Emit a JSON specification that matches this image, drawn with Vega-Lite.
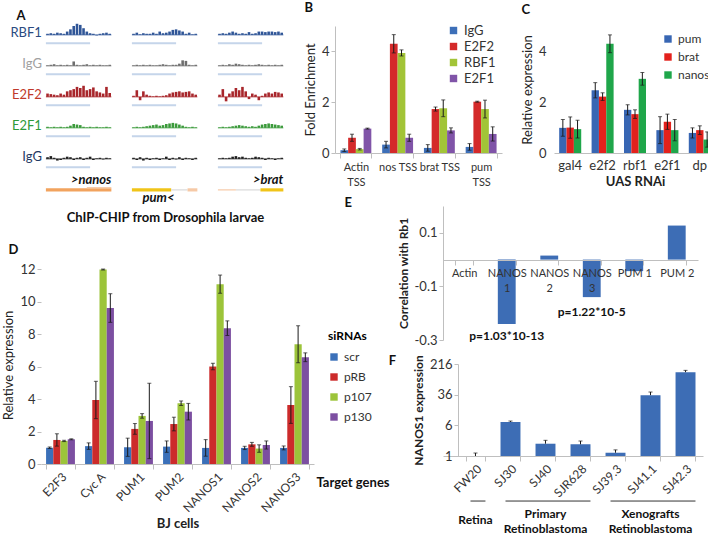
{
"$schema":"https://vega.github.io/schema/vega-lite/v6.json",
"background":"white",
"padding":{"left":2,"top":2,"right":0,"bottom":0},
"config":{
  "font":"Lato",
  "view":{"stroke":null},
  "axis":{"grid":false,"labelColor":"#333","titleColor":"#222","domainColor":"#bfbfbf","tickColor":"#bfbfbf","labelFontSize":13,"titleFontSize":13,"titleFontWeight":"normal"},
  "legend":{"labelFontSize":13,"labelColor":"#333","symbolType":"square","symbolSize":55,"symbolStrokeWidth":0},
  "title":{"fontSize":13,"fontWeight":"bold","color":"#111"}
},
"resolve":{"scale":{"color":"independent","fill":"independent","stroke":"independent","strokeWidth":"independent","xOffset":"independent"},"legend":{"color":"independent"}},
"vconcat":[
 {"resolve":{"scale":{"color":"independent","fill":"independent","stroke":"independent","strokeWidth":"independent","xOffset":"independent"},"legend":{"color":"independent"}},
  "hconcat":[
  {
   "title":{"text":"A","anchor":"start","frame":"bounds","offset":-1,"dx":6},
   "data":{"values":[
    {"t":"R","s":1,"i":0,"v":0.1},{"t":"R","s":1,"i":1,"v":0.15},{"t":"R","s":1,"i":2,"v":0.1},{"t":"R","s":1,"i":3,"v":0.2},{"t":"R","s":1,"i":4,"v":0.15},{"t":"R","s":1,"i":5,"v":0.1},{"t":"R","s":1,"i":6,"v":0.3},{"t":"R","s":1,"i":7,"v":0.5},{"t":"R","s":1,"i":8,"v":0.8},{"t":"R","s":1,"i":9,"v":1.0},{"t":"R","s":1,"i":10,"v":0.9},{"t":"R","s":1,"i":11,"v":0.6},{"t":"R","s":1,"i":12,"v":0.3},{"t":"R","s":1,"i":13,"v":0.15},{"t":"R","s":1,"i":14,"v":0.1},{"t":"R","s":1,"i":15,"v":-0.05},{"t":"R","s":1,"i":16,"v":0.1},{"t":"R","s":1,"i":17,"v":0.15},{"t":"R","s":1,"i":18,"v":0.2},{"t":"R","s":1,"i":19,"v":0.1},
    {"t":"R","s":2,"i":0,"v":0.1},{"t":"R","s":2,"i":1,"v":0.2},{"t":"R","s":2,"i":2,"v":0.05},{"t":"R","s":2,"i":3,"v":0.15},{"t":"R","s":2,"i":4,"v":0.1},{"t":"R","s":2,"i":5,"v":0.1},{"t":"R","s":2,"i":6,"v":0.2},{"t":"R","s":2,"i":7,"v":0.1},{"t":"R","s":2,"i":8,"v":0.3},{"t":"R","s":2,"i":9,"v":0.15},{"t":"R","s":2,"i":10,"v":0.2},{"t":"R","s":2,"i":11,"v":0.3},{"t":"R","s":2,"i":12,"v":0.45},{"t":"R","s":2,"i":13,"v":0.5},{"t":"R","s":2,"i":14,"v":0.4},{"t":"R","s":2,"i":15,"v":0.3},{"t":"R","s":2,"i":16,"v":0.1},{"t":"R","s":2,"i":17,"v":0.2},{"t":"R","s":2,"i":18,"v":0.05},{"t":"R","s":2,"i":19,"v":0.1},
    {"t":"R","s":3,"i":0,"v":0.1},{"t":"R","s":3,"i":1,"v":0.15},{"t":"R","s":3,"i":2,"v":0.1},{"t":"R","s":3,"i":3,"v":0.2},{"t":"R","s":3,"i":4,"v":0.3},{"t":"R","s":3,"i":5,"v":0.2},{"t":"R","s":3,"i":6,"v":0.1},{"t":"R","s":3,"i":7,"v":0.15},{"t":"R","s":3,"i":8,"v":0.1},{"t":"R","s":3,"i":9,"v":0.25},{"t":"R","s":3,"i":10,"v":0.1},{"t":"R","s":3,"i":11,"v":0.15},{"t":"R","s":3,"i":12,"v":0.3},{"t":"R","s":3,"i":13,"v":0.3},{"t":"R","s":3,"i":14,"v":0.25},{"t":"R","s":3,"i":15,"v":0.3},{"t":"R","s":3,"i":16,"v":0.3},{"t":"R","s":3,"i":17,"v":0.25},{"t":"R","s":3,"i":18,"v":0.3},{"t":"R","s":3,"i":19,"v":0.2},
    {"t":"I1","s":1,"i":0,"v":0.05},{"t":"I1","s":1,"i":1,"v":0.1},{"t":"I1","s":1,"i":2,"v":0.15},{"t":"I1","s":1,"i":3,"v":0.05},{"t":"I1","s":1,"i":4,"v":0.1},{"t":"I1","s":1,"i":5,"v":0.05},{"t":"I1","s":1,"i":6,"v":0.1},{"t":"I1","s":1,"i":7,"v":0.05},{"t":"I1","s":1,"i":8,"v":0.4},{"t":"I1","s":1,"i":9,"v":0.1},{"t":"I1","s":1,"i":10,"v":0.05},{"t":"I1","s":1,"i":11,"v":0.1},{"t":"I1","s":1,"i":12,"v":0.15},{"t":"I1","s":1,"i":13,"v":0.05},{"t":"I1","s":1,"i":14,"v":0.1},{"t":"I1","s":1,"i":15,"v":0.05},{"t":"I1","s":1,"i":16,"v":0.1},{"t":"I1","s":1,"i":17,"v":0.05},{"t":"I1","s":1,"i":18,"v":0.05},{"t":"I1","s":1,"i":19,"v":0.1},
    {"t":"I1","s":2,"i":0,"v":0.05},{"t":"I1","s":2,"i":1,"v":0.1},{"t":"I1","s":2,"i":2,"v":0.05},{"t":"I1","s":2,"i":3,"v":0.1},{"t":"I1","s":2,"i":4,"v":0.05},{"t":"I1","s":2,"i":5,"v":0.1},{"t":"I1","s":2,"i":6,"v":0.05},{"t":"I1","s":2,"i":7,"v":0.05},{"t":"I1","s":2,"i":8,"v":0.1},{"t":"I1","s":2,"i":9,"v":0.15},{"t":"I1","s":2,"i":10,"v":0.1},{"t":"I1","s":2,"i":11,"v":0.05},{"t":"I1","s":2,"i":12,"v":0.1},{"t":"I1","s":2,"i":13,"v":0.1},{"t":"I1","s":2,"i":14,"v":0.2},{"t":"I1","s":2,"i":15,"v":0.5},{"t":"I1","s":2,"i":16,"v":0.45},{"t":"I1","s":2,"i":17,"v":0.1},{"t":"I1","s":2,"i":18,"v":0.05},{"t":"I1","s":2,"i":19,"v":0.1},
    {"t":"I1","s":3,"i":0,"v":0.05},{"t":"I1","s":3,"i":1,"v":0.1},{"t":"I1","s":3,"i":2,"v":0.05},{"t":"I1","s":3,"i":3,"v":0.15},{"t":"I1","s":3,"i":4,"v":0.1},{"t":"I1","s":3,"i":5,"v":0.2},{"t":"I1","s":3,"i":6,"v":0.15},{"t":"I1","s":3,"i":7,"v":0.1},{"t":"I1","s":3,"i":8,"v":0.05},{"t":"I1","s":3,"i":9,"v":0.1},{"t":"I1","s":3,"i":10,"v":0.05},{"t":"I1","s":3,"i":11,"v":0.1},{"t":"I1","s":3,"i":12,"v":0.15},{"t":"I1","s":3,"i":13,"v":0.1},{"t":"I1","s":3,"i":14,"v":0.05},{"t":"I1","s":3,"i":15,"v":0.1},{"t":"I1","s":3,"i":16,"v":0.05},{"t":"I1","s":3,"i":17,"v":0.1},{"t":"I1","s":3,"i":18,"v":0.05},{"t":"I1","s":3,"i":19,"v":0.1},
    {"t":"E2","s":1,"i":0,"v":0.3},{"t":"E2","s":1,"i":1,"v":0.25},{"t":"E2","s":1,"i":2,"v":0.2},{"t":"E2","s":1,"i":3,"v":0.15},{"t":"E2","s":1,"i":4,"v":0.3},{"t":"E2","s":1,"i":5,"v":0.2},{"t":"E2","s":1,"i":6,"v":0.5},{"t":"E2","s":1,"i":7,"v":0.6},{"t":"E2","s":1,"i":8,"v":0.7},{"t":"E2","s":1,"i":9,"v":0.9},{"t":"E2","s":1,"i":10,"v":0.8},{"t":"E2","s":1,"i":11,"v":1.0},{"t":"E2","s":1,"i":12,"v":0.6},{"t":"E2","s":1,"i":13,"v":0.7},{"t":"E2","s":1,"i":14,"v":0.85},{"t":"E2","s":1,"i":15,"v":0.5},{"t":"E2","s":1,"i":16,"v":0.4},{"t":"E2","s":1,"i":17,"v":0.3},{"t":"E2","s":1,"i":18,"v":0.9},{"t":"E2","s":1,"i":19,"v":0.35},
    {"t":"E2","s":2,"i":0,"v":0.1},{"t":"E2","s":2,"i":1,"v":0.6},{"t":"E2","s":2,"i":2,"v":-0.3},{"t":"E2","s":2,"i":3,"v":0.5},{"t":"E2","s":2,"i":4,"v":0.2},{"t":"E2","s":2,"i":5,"v":0.1},{"t":"E2","s":2,"i":6,"v":0.05},{"t":"E2","s":2,"i":7,"v":0.1},{"t":"E2","s":2,"i":8,"v":0.05},{"t":"E2","s":2,"i":9,"v":0.1},{"t":"E2","s":2,"i":10,"v":0.15},{"t":"E2","s":2,"i":11,"v":0.3},{"t":"E2","s":2,"i":12,"v":0.4},{"t":"E2","s":2,"i":13,"v":0.45},{"t":"E2","s":2,"i":14,"v":0.5},{"t":"E2","s":2,"i":15,"v":0.4},{"t":"E2","s":2,"i":16,"v":0.45},{"t":"E2","s":2,"i":17,"v":0.5},{"t":"E2","s":2,"i":18,"v":0.3},{"t":"E2","s":2,"i":19,"v":0.2},
    {"t":"E2","s":3,"i":0,"v":0.2},{"t":"E2","s":3,"i":1,"v":0.7},{"t":"E2","s":3,"i":2,"v":-0.4},{"t":"E2","s":3,"i":3,"v":0.3},{"t":"E2","s":3,"i":4,"v":0.5},{"t":"E2","s":3,"i":5,"v":0.8},{"t":"E2","s":3,"i":6,"v":0.6},{"t":"E2","s":3,"i":7,"v":0.9},{"t":"E2","s":3,"i":8,"v":0.5},{"t":"E2","s":3,"i":9,"v":-0.2},{"t":"E2","s":3,"i":10,"v":0.3},{"t":"E2","s":3,"i":11,"v":0.2},{"t":"E2","s":3,"i":12,"v":-0.3},{"t":"E2","s":3,"i":13,"v":0.1},{"t":"E2","s":3,"i":14,"v":0.3},{"t":"E2","s":3,"i":15,"v":0.4},{"t":"E2","s":3,"i":16,"v":0.3},{"t":"E2","s":3,"i":17,"v":0.45},{"t":"E2","s":3,"i":18,"v":0.4},{"t":"E2","s":3,"i":19,"v":0.3},
    {"t":"E1","s":1,"i":0,"v":0.1},{"t":"E1","s":1,"i":1,"v":0.05},{"t":"E1","s":1,"i":2,"v":0.1},{"t":"E1","s":1,"i":3,"v":0.05},{"t":"E1","s":1,"i":4,"v":0.1},{"t":"E1","s":1,"i":5,"v":0.05},{"t":"E1","s":1,"i":6,"v":0.1},{"t":"E1","s":1,"i":7,"v":0.2},{"t":"E1","s":1,"i":8,"v":0.35},{"t":"E1","s":1,"i":9,"v":0.3},{"t":"E1","s":1,"i":10,"v":0.25},{"t":"E1","s":1,"i":11,"v":0.1},{"t":"E1","s":1,"i":12,"v":0.05},{"t":"E1","s":1,"i":13,"v":0.1},{"t":"E1","s":1,"i":14,"v":0.05},{"t":"E1","s":1,"i":15,"v":0.1},{"t":"E1","s":1,"i":16,"v":0.05},{"t":"E1","s":1,"i":17,"v":0.05},{"t":"E1","s":1,"i":18,"v":0.1},{"t":"E1","s":1,"i":19,"v":0.05},
    {"t":"E1","s":2,"i":0,"v":0.05},{"t":"E1","s":2,"i":1,"v":0.1},{"t":"E1","s":2,"i":2,"v":0.05},{"t":"E1","s":2,"i":3,"v":0.1},{"t":"E1","s":2,"i":4,"v":0.15},{"t":"E1","s":2,"i":5,"v":0.2},{"t":"E1","s":2,"i":6,"v":0.25},{"t":"E1","s":2,"i":7,"v":0.3},{"t":"E1","s":2,"i":8,"v":0.2},{"t":"E1","s":2,"i":9,"v":0.25},{"t":"E1","s":2,"i":10,"v":0.35},{"t":"E1","s":2,"i":11,"v":0.4},{"t":"E1","s":2,"i":12,"v":0.45},{"t":"E1","s":2,"i":13,"v":0.4},{"t":"E1","s":2,"i":14,"v":0.3},{"t":"E1","s":2,"i":15,"v":0.2},{"t":"E1","s":2,"i":16,"v":0.1},{"t":"E1","s":2,"i":17,"v":0.05},{"t":"E1","s":2,"i":18,"v":0.1},{"t":"E1","s":2,"i":19,"v":0.05},
    {"t":"E1","s":3,"i":0,"v":0.05},{"t":"E1","s":3,"i":1,"v":0.1},{"t":"E1","s":3,"i":2,"v":0.05},{"t":"E1","s":3,"i":3,"v":0.1},{"t":"E1","s":3,"i":4,"v":0.15},{"t":"E1","s":3,"i":5,"v":0.2},{"t":"E1","s":3,"i":6,"v":0.25},{"t":"E1","s":3,"i":7,"v":0.2},{"t":"E1","s":3,"i":8,"v":0.15},{"t":"E1","s":3,"i":9,"v":0.1},{"t":"E1","s":3,"i":10,"v":0.15},{"t":"E1","s":3,"i":11,"v":0.1},{"t":"E1","s":3,"i":12,"v":0.2},{"t":"E1","s":3,"i":13,"v":0.3},{"t":"E1","s":3,"i":14,"v":0.35},{"t":"E1","s":3,"i":15,"v":0.4},{"t":"E1","s":3,"i":16,"v":0.35},{"t":"E1","s":3,"i":17,"v":0.3},{"t":"E1","s":3,"i":18,"v":0.25},{"t":"E1","s":3,"i":19,"v":0.2},
    {"t":"I2","s":1,"i":0,"v":0.15},{"t":"I2","s":1,"i":1,"v":0.25},{"t":"I2","s":1,"i":2,"v":0.1},{"t":"I2","s":1,"i":3,"v":-0.15},{"t":"I2","s":1,"i":4,"v":-0.1},{"t":"I2","s":1,"i":5,"v":0.1},{"t":"I2","s":1,"i":6,"v":0.2},{"t":"I2","s":1,"i":7,"v":0.15},{"t":"I2","s":1,"i":8,"v":-0.1},{"t":"I2","s":1,"i":9,"v":0.1},{"t":"I2","s":1,"i":10,"v":0.15},{"t":"I2","s":1,"i":11,"v":-0.1},{"t":"I2","s":1,"i":12,"v":0.1},{"t":"I2","s":1,"i":13,"v":0.2},{"t":"I2","s":1,"i":14,"v":-0.1},{"t":"I2","s":1,"i":15,"v":0.05},{"t":"I2","s":1,"i":16,"v":0.1},{"t":"I2","s":1,"i":17,"v":-0.05},{"t":"I2","s":1,"i":18,"v":0.1},{"t":"I2","s":1,"i":19,"v":0.05},
    {"t":"I2","s":2,"i":0,"v":0.1},{"t":"I2","s":2,"i":1,"v":-0.1},{"t":"I2","s":2,"i":2,"v":0.15},{"t":"I2","s":2,"i":3,"v":-0.15},{"t":"I2","s":2,"i":4,"v":0.1},{"t":"I2","s":2,"i":5,"v":-0.1},{"t":"I2","s":2,"i":6,"v":0.05},{"t":"I2","s":2,"i":7,"v":0.1},{"t":"I2","s":2,"i":8,"v":-0.1},{"t":"I2","s":2,"i":9,"v":0.05},{"t":"I2","s":2,"i":10,"v":0.2},{"t":"I2","s":2,"i":11,"v":-0.1},{"t":"I2","s":2,"i":12,"v":0.1},{"t":"I2","s":2,"i":13,"v":-0.05},{"t":"I2","s":2,"i":14,"v":0.15},{"t":"I2","s":2,"i":15,"v":-0.1},{"t":"I2","s":2,"i":16,"v":0.1},{"t":"I2","s":2,"i":17,"v":0.05},{"t":"I2","s":2,"i":18,"v":-0.1},{"t":"I2","s":2,"i":19,"v":0.1},
    {"t":"I2","s":3,"i":0,"v":0.05},{"t":"I2","s":3,"i":1,"v":0.1},{"t":"I2","s":3,"i":2,"v":0.05},{"t":"I2","s":3,"i":3,"v":0.1},{"t":"I2","s":3,"i":4,"v":0.2},{"t":"I2","s":3,"i":5,"v":0.25},{"t":"I2","s":3,"i":6,"v":0.15},{"t":"I2","s":3,"i":7,"v":0.2},{"t":"I2","s":3,"i":8,"v":0.1},{"t":"I2","s":3,"i":9,"v":0.05},{"t":"I2","s":3,"i":10,"v":0.1},{"t":"I2","s":3,"i":11,"v":0.2},{"t":"I2","s":3,"i":12,"v":0.15},{"t":"I2","s":3,"i":13,"v":0.1},{"t":"I2","s":3,"i":14,"v":-0.1},{"t":"I2","s":3,"i":15,"v":0.1},{"t":"I2","s":3,"i":16,"v":0.05},{"t":"I2","s":3,"i":17,"v":-0.1},{"t":"I2","s":3,"i":18,"v":0.05},{"t":"I2","s":3,"i":19,"v":0.1},
    {"t":"G","s":1,"g0":-0.5,"g1":19.5,"gf":"nanos","gk":"exon","ln":0},
    {"t":"G","s":1,"g0":12,"g1":19.5,"gf":"other","gk":"intron","ln":0.2},
    {"t":"G","s":2,"g0":-0.5,"g1":11.5,"gf":"pum","gk":"exon","ln":0},
    {"t":"G","s":2,"g0":11.5,"g1":16.5,"gf":"intergenic","gk":"intron","ln":0},
    {"t":"G","s":2,"g0":16.5,"g1":19.5,"gf":"other","gk":"exon","ln":0},
    {"t":"G","s":3,"g0":-0.5,"g1":5,"gf":"other","gk":"intron","ln":0},
    {"t":"G","s":3,"g0":5,"g1":12.5,"gf":"intergenic","gk":"intron","ln":0},
    {"t":"G","s":3,"g0":12.5,"g1":19.5,"gf":"brat","gk":"exon","ln":0},
    {"t":"G","s":1,"gx":19.5,"gy":0.88,"gt":">nanos"},
    {"t":"G","s":2,"gx":12.5,"gy":-0.75,"gt":"pum<"},
    {"t":"G","s":3,"gx":19.5,"gy":0.88,"gt":">brat"},
    {"t":"R","s":1,"lab":"RBF1"},{"t":"I1","s":1,"lab":"IgG"},{"t":"E2","s":1,"lab":"E2F2"},{"t":"E1","s":1,"lab":"E2F1"},{"t":"I2","s":1,"lab":"IgG"}
   ]},
   "facet":{
     "row":{"field":"t","type":"nominal","sort":["R","I1","E2","E1","I2","G"],"header":null},
     "column":{"field":"s","type":"ordinal","header":null}
   },
   "bounds":"flush",
   "spacing":{"row":11,"column":14},
   "spec":{
     "width":72,"height":20,
     "layer":[
       {"transform":[{"filter":"datum.i === 0"}],"mark":{"type":"rule","strokeWidth":0.8},
        "encoding":{"x":{"datum":-0.5,"axis":null},"x2":{"datum":19.5},"y":{"datum":0,"axis":null},
          "color":{"field":"t","type":"nominal","scale":{"domain":["R","I1","E2","E1","I2"],"range":["#2f5597","#6e6e6e","#a8262b","#3b9a3b","#1e1e1e"]},"legend":null}}},
       {"transform":[{"filter":"datum.i === 0"}],"mark":{"type":"rule","strokeWidth":2,"color":"#c5d5ea"},
        "encoding":{"x":{"datum":-0.5,"axis":null},"x2":{"datum":13},"y":{"datum":-0.75,"axis":null}}},
       {"transform":[{"filter":"isValid(datum.v)"}],"mark":{"type":"rule","strokeWidth":2.6},
        "encoding":{"x":{"field":"i","type":"quantitative","scale":{"domain":[-0.5,19.5]},"axis":null},
          "y":{"field":"v","type":"quantitative","scale":{"domain":[-0.9,0.7]},"axis":null},
          "y2":{"datum":0},
          "color":{"field":"t","type":"nominal","legend":null}}},
       {"transform":[{"filter":"isValid(datum.g0)"}],"mark":{"type":"rule"},
        "encoding":{"x":{"field":"g0","type":"quantitative","axis":null},"x2":{"field":"g1"},
          "y":{"field":"ln","type":"quantitative","axis":null},
          "stroke":{"field":"gf","type":"nominal","scale":{"domain":["nanos","pum","brat","other","intergenic"],"range":["#f2a35e","#f0c419","#f0c419","#f6c9a6","#d9d9d9"]},"legend":null},
          "strokeWidth":{"field":"gk","type":"nominal","scale":{"domain":["exon","intron"],"range":[3.2,1.2]},"legend":null}}},
       {"transform":[{"filter":"isValid(datum.gt)"}],"mark":{"type":"text","align":"right","fontSize":13,"fontWeight":"bold","fontStyle":"italic","color":"#111"},
        "encoding":{"x":{"field":"gx","type":"quantitative","axis":null},"y":{"field":"gy","type":"quantitative","axis":null},"text":{"field":"gt"}}},
       {"transform":[{"filter":"isValid(datum.lab)"}],"mark":{"type":"text","align":"right","dx":-4,"fontSize":13},
        "encoding":{"x":{"datum":-0.5,"axis":null},"y":{"datum":0.15,"axis":null},"text":{"field":"lab"},
          "fill":{"field":"t","type":"nominal","scale":{"domain":["R","I1","E2","E1","I2"],"range":["#2b4a80","#a0a0a0","#c0392b","#2e9a3a","#1f3864"]},"legend":null}}}
     ]
   }
  },
  {
   "title":{"text":"B","anchor":"start","frame":"bounds","offset":9},
   "width":167,"height":127,
   "data":{"values":[
    {"c":"Actin TSS","g":"IgG","v":0.11,"lo":0.06,"hi":0.16},
    {"c":"Actin TSS","g":"E2F2","v":0.6,"lo":0.46,"hi":0.74},
    {"c":"Actin TSS","g":"RBF1","v":0.15,"lo":0.12,"hi":0.18},
    {"c":"Actin TSS","g":"E2F1","v":0.96,"lo":0.94,"hi":0.98},
    {"c":"nos TSS","g":"IgG","v":0.33,"lo":0.2,"hi":0.46},
    {"c":"nos TSS","g":"E2F2","v":4.3,"lo":3.94,"hi":4.66},
    {"c":"nos TSS","g":"RBF1","v":3.94,"lo":3.82,"hi":4.06},
    {"c":"nos TSS","g":"E2F1","v":0.6,"lo":0.46,"hi":0.74},
    {"c":"brat TSS","g":"IgG","v":0.2,"lo":0.07,"hi":0.33},
    {"c":"brat TSS","g":"E2F2","v":1.73,"lo":1.65,"hi":1.81},
    {"c":"brat TSS","g":"RBF1","v":1.76,"lo":1.43,"hi":2.09},
    {"c":"brat TSS","g":"E2F1","v":0.89,"lo":0.79,"hi":0.99},
    {"c":"pum TSS","g":"IgG","v":0.24,"lo":0.11,"hi":0.37},
    {"c":"pum TSS","g":"E2F2","v":2.02,"lo":2.0,"hi":2.04},
    {"c":"pum TSS","g":"RBF1","v":1.73,"lo":1.38,"hi":2.08},
    {"c":"pum TSS","g":"E2F1","v":0.75,"lo":0.47,"hi":1.03}
   ]},
   "encoding":{
     "x":{"field":"c","type":"nominal","scale":{"domain":["Actin TSS","nos TSS","brat TSS","pum TSS"],"paddingInner":0.26,"paddingOuter":0.13},
       "axis":{"title":null,"labelAngle":0,"labelFontSize":11,"tickBand":"extent","tickSize":5,"labelPadding":3,"labelLineHeight":15,"labelExpr":"datum.label === 'Actin TSS' || datum.label === 'pum TSS' ? split(datum.label, ' ') : datum.label"}},
     "xOffset":{"field":"g","type":"nominal","scale":{"domain":["IgG","E2F2","RBF1","E2F1"]}}
   },
   "layer":[
     {"mark":{"type":"bar"},"encoding":{
       "y":{"field":"v","type":"quantitative","scale":{"domain":[0,5]},"axis":{"title":"Fold Enrichment","values":[0,1,2,3,4,5],"tickSize":4}},
       "color":{"field":"g","type":"nominal","scale":{"domain":["IgG","E2F2","RBF1","E2F1"],"range":["#3d6fb8","#d42a2a","#a2c437","#8054a8"]},
         "legend":{"title":null,"orient":"none","legendX":112,"legendY":-2,"rowPadding":2}}}},
     {"mark":{"type":"rule","color":"#1a1a1a"},"encoding":{"y":{"field":"lo","type":"quantitative"},"y2":{"field":"hi"}}},
     {"mark":{"type":"tick","orient":"horizontal","size":4,"thickness":1,"color":"#1a1a1a"},"encoding":{"y":{"field":"hi","type":"quantitative"}}},
     {"mark":{"type":"tick","orient":"horizontal","size":4,"thickness":1,"color":"#1a1a1a"},"encoding":{"y":{"field":"lo","type":"quantitative"}}}
   ]
  },
  {
   "title":{"text":"C","anchor":"start","frame":"bounds","offset":9},
   "width":162,"height":127,
   "data":{"values":[
    {"c":"gal4","g":"pum","v":0.99,"lo":0.66,"hi":1.32},
    {"c":"gal4","g":"brat","v":1.0,"lo":0.58,"hi":1.42},
    {"c":"gal4","g":"nanos","v":0.94,"lo":0.59,"hi":1.29},
    {"c":"e2f2","g":"pum","v":2.47,"lo":2.17,"hi":2.77},
    {"c":"e2f2","g":"brat","v":2.22,"lo":2.07,"hi":2.37},
    {"c":"e2f2","g":"nanos","v":4.3,"lo":3.95,"hi":4.65},
    {"c":"rbf1","g":"pum","v":1.7,"lo":1.5,"hi":1.9},
    {"c":"rbf1","g":"brat","v":1.53,"lo":1.36,"hi":1.7},
    {"c":"rbf1","g":"nanos","v":2.92,"lo":2.67,"hi":3.17},
    {"c":"e2f1","g":"pum","v":0.9,"lo":0.37,"hi":1.43},
    {"c":"e2f1","g":"brat","v":1.23,"lo":0.93,"hi":1.53},
    {"c":"e2f1","g":"nanos","v":0.9,"lo":0.48,"hi":1.32},
    {"c":"dp","g":"pum","v":0.79,"lo":0.59,"hi":0.99},
    {"c":"dp","g":"brat","v":0.9,"lo":0.73,"hi":1.07},
    {"c":"dp","g":"nanos","v":0.53,"lo":0.23,"hi":0.83}
   ]},
   "encoding":{
     "x":{"field":"c","type":"nominal","scale":{"domain":["gal4","e2f2","rbf1","e2f1","dp"],"paddingInner":0.32,"paddingOuter":0.16},
       "axis":{"title":"UAS RNAi","titleFontWeight":"bold","titlePadding":3,"labelAngle":0,"ticks":false,"labelPadding":6}},
     "xOffset":{"field":"g","type":"nominal","scale":{"domain":["pum","brat","nanos"]}}
   },
   "layer":[
     {"mark":{"type":"bar"},"encoding":{
       "y":{"field":"v","type":"quantitative","scale":{"domain":[0,5]},"axis":{"title":"Relative expression","values":[0,1,2,3,4,5],"ticks":false,"domain":false,"labelPadding":8}},
       "color":{"field":"g","type":"nominal","scale":{"domain":["pum","brat","nanos"],"range":["#3866b3","#e3211c","#1fa64a"]},
         "legend":{"title":null,"orient":"none","legendX":108,"legendY":7,"rowPadding":6,"labelFontSize":12}}}},
     {"mark":{"type":"rule","color":"#1a1a1a"},"encoding":{"y":{"field":"lo","type":"quantitative"},"y2":{"field":"hi"}}},
     {"mark":{"type":"tick","orient":"horizontal","size":4,"thickness":1,"color":"#1a1a1a"},"encoding":{"y":{"field":"hi","type":"quantitative"}}},
     {"mark":{"type":"tick","orient":"horizontal","size":4,"thickness":1,"color":"#1a1a1a"},"encoding":{"y":{"field":"lo","type":"quantitative"}}}
   ]
  }
 ],"spacing":19},
 {"resolve":{"scale":{"color":"independent","fill":"independent","stroke":"independent","strokeWidth":"independent","xOffset":"independent"},"legend":{"color":"independent"}},
  "hconcat":[
  {
   "width":273,"height":258,
   "layer":[
     {"data":{"values":[
       {"c":"E2F3","g":"scr","v":1.0,"lo":0.95,"hi":1.05},{"c":"E2F3","g":"pRB","v":1.48,"lo":1.1,"hi":1.86},{"c":"E2F3","g":"p107","v":1.42,"lo":1.38,"hi":1.46},{"c":"E2F3","g":"p130","v":1.52,"lo":1.49,"hi":1.55},
       {"c":"Cyc A","g":"scr","v":1.1,"lo":0.9,"hi":1.3},{"c":"Cyc A","g":"pRB","v":3.94,"lo":2.79,"hi":5.09},{"c":"Cyc A","g":"p107","v":11.97,"lo":11.94,"hi":12.0},{"c":"Cyc A","g":"p130","v":9.6,"lo":8.72,"hi":10.48},
       {"c":"PUM1","g":"scr","v":1.03,"lo":0.47,"hi":1.59},{"c":"PUM1","g":"pRB","v":2.16,"lo":1.83,"hi":2.49},{"c":"PUM1","g":"p107","v":2.96,"lo":2.82,"hi":3.1},{"c":"PUM1","g":"p130","v":2.65,"lo":0.33,"hi":4.97},
       {"c":"PUM2","g":"scr","v":1.07,"lo":0.72,"hi":1.42},{"c":"PUM2","g":"pRB","v":2.46,"lo":2.04,"hi":2.88},{"c":"PUM2","g":"p107","v":3.74,"lo":3.6,"hi":3.88},{"c":"PUM2","g":"p130","v":3.22,"lo":2.71,"hi":3.73},
       {"c":"NANOS1","g":"scr","v":0.99,"lo":0.48,"hi":1.5},{"c":"NANOS1","g":"pRB","v":6.0,"lo":5.8,"hi":6.2},{"c":"NANOS1","g":"p107","v":11.07,"lo":10.51,"hi":11.63},{"c":"NANOS1","g":"p130","v":8.36,"lo":7.91,"hi":8.81},
       {"c":"NANOS2","g":"scr","v":0.99,"lo":0.89,"hi":1.09},{"c":"NANOS2","g":"pRB","v":1.21,"lo":1.09,"hi":1.33},{"c":"NANOS2","g":"p107","v":0.95,"lo":0.72,"hi":1.18},{"c":"NANOS2","g":"p130","v":1.17,"lo":0.92,"hi":1.42},
       {"c":"NANOS3","g":"scr","v":0.99,"lo":0.87,"hi":1.11},{"c":"NANOS3","g":"pRB","v":3.63,"lo":2.5,"hi":4.76},{"c":"NANOS3","g":"p107","v":7.37,"lo":6.23,"hi":8.51},{"c":"NANOS3","g":"p130","v":6.57,"lo":6.3,"hi":6.84}
      ]},
      "layer":[
       {"mark":{"type":"bar"},"encoding":{
         "x":{"field":"c","type":"nominal","scale":{"domain":["E2F3","Cyc A","PUM1","PUM2","NANOS1","NANOS2","NANOS3"],"paddingInner":0.26,"paddingOuter":0.13},
           "axis":{"title":"BJ cells","titleFontWeight":"bold","titlePadding":4,"labelAngle":-45,"labelFontSize":12,"tickBand":"extent","tickSize":5,"labelPadding":2}},
         "xOffset":{"field":"g","type":"nominal","scale":{"domain":["scr","pRB","p107","p130"]}},
         "y":{"field":"v","type":"quantitative","scale":{"domain":[0,15.88],"nice":false},"axis":{"title":"Relative expression","titleY":159,"values":[0,2,4,6,8,10,12],"tickSize":4,"domain":false}},
         "color":{"field":"g","type":"nominal","scale":{"domain":["scr","pRB","p107","p130"],"range":["#3b70b9","#cc2b2b","#9cc43a","#7c4fa1"]},
           "legend":{"title":"siRNAs","titleFontWeight":"bold","titleFontSize":12,"labelFontSize":12,"orient":"none","legendX":287,"legendY":125,"rowPadding":8,"titlePadding":8}}}},
       {"mark":{"type":"rule","color":"#1a1a1a"},"encoding":{"x":{"field":"c","type":"nominal"},"xOffset":{"field":"g","type":"nominal"},"y":{"field":"lo","type":"quantitative"},"y2":{"field":"hi"}}},
       {"mark":{"type":"tick","orient":"horizontal","size":4,"thickness":1,"color":"#1a1a1a"},"encoding":{"x":{"field":"c","type":"nominal"},"xOffset":{"field":"g","type":"nominal"},"y":{"field":"hi","type":"quantitative"}}},
       {"mark":{"type":"tick","orient":"horizontal","size":4,"thickness":1,"color":"#1a1a1a"},"encoding":{"x":{"field":"c","type":"nominal"},"xOffset":{"field":"g","type":"nominal"},"y":{"field":"lo","type":"quantitative"}}}
      ]},
     {"data":{"values":[{"lab":"ChIP-CHIP from Drosophila larvae"}]},"mark":{"type":"text","fontSize":13,"fontWeight":"bold","dx":27,"color":"#111"},
      "encoding":{"x":{"datum":"PUM1"},"y":{"datum":15.14},"text":{"field":"lab"}}},
     {"data":{"values":[{"lab":"D"}]},"mark":{"type":"text","fontSize":13,"fontWeight":"bold","dx":-47,"color":"#111"},
      "encoding":{"x":{"datum":"E2F3"},"y":{"datum":13.17},"text":{"field":"lab"}}},
     {"data":{"values":[{"lab":"Target genes"}]},"mark":{"type":"text","fontSize":13,"fontWeight":"bold","align":"left","dx":22,"dy":19,"color":"#111"},
      "encoding":{"x":{"datum":"NANOS3"},"y":{"datum":0},"text":{"field":"lab"}}}
   ]
  },
  {"align":"each",
   "vconcat":[
   {
    "width":255,"height":134,
    "layer":[
     {"data":{"values":[
       {"c":"Actin","v":0},{"c":"NANOS 1","v":-0.24},{"c":"NANOS 2","v":0.015},{"c":"NANOS 3","v":-0.14},{"c":"PUM 1","v":-0.043},{"c":"PUM 2","v":0.127}
      ]},
      "mark":{"type":"bar","color":"#3d6db5"},
      "encoding":{
        "x":{"field":"c","type":"nominal","scale":{"domain":["Actin","NANOS 1","NANOS 2","NANOS 3","PUM 1","PUM 2"],"paddingInner":0.58,"paddingOuter":0.29},
          "axis":{"title":null,"offset":-80,"labelAngle":0,"labelFontSize":11,"tickBand":"extent","tickSize":5,"labelPadding":2,"labelLineHeight":15,"zindex":1,"labelExpr":"indexof(datum.label, 'NANOS') === 0 ? split(datum.label, ' ') : datum.label"}},
        "y":{"field":"v","type":"quantitative","scale":{"domain":[-0.3,0.2]},
          "axis":{"title":"Correlation with Rb1","titleFontWeight":"bold","titleFontSize":12,"values":[-0.3,-0.2,-0.1,0,0.1,0.2],"tickSize":4,"labelExpr":"datum.value === 0 ? '0' : toString(round(datum.value*10)/10)"}}}},
     {"data":{"values":[{"c":"NANOS 1","py":-0.285,"pv":"p=1.03*10-13"},{"c":"NANOS 3","py":-0.195,"pv":"p=1.22*10-5"}]},
      "mark":{"type":"text","fontWeight":"bold","fontSize":12,"color":"#111"},
      "encoding":{"x":{"field":"c","type":"nominal"},"y":{"field":"py","type":"quantitative"},"text":{"field":"pv"}}},
     {"data":{"values":[{"lab":"E"}]},"mark":{"type":"text","fontSize":13,"fontWeight":"bold","dx":-116,"dy":-3,"color":"#111"},
      "encoding":{"x":{"datum":"Actin"},"y":{"datum":0.2},"text":{"field":"lab"}}}
    ]
   },
   {
    "width":260,"height":92,
    "layer":[
     {"data":{"values":[
       {"c":"FW20","v":1.0,"hi":1.19},{"c":"SJ30","v":7.3,"hi":7.7},{"c":"SJ40","v":2.05,"hi":2.5},{"c":"SJR628","v":1.98,"hi":2.4},{"c":"SJ39.3","v":1.21,"hi":1.43},{"c":"SJ41.1","v":35,"hi":42},{"c":"SJ42.3","v":134,"hi":149}
      ]},
      "layer":[
       {"mark":{"type":"bar","color":"#3d6db5"},
        "encoding":{
          "x":{"field":"c","type":"nominal","scale":{"domain":["FW20","SJ30","SJ40","SJR628","SJ39.3","SJ41.1","SJ42.3"],"paddingInner":0.43,"paddingOuter":0.4286,"align":0.75},
            "axis":{"title":null,"labelAngle":-45,"labelFontSize":12,"tickBand":"extent","tickSize":5,"labelPadding":2}},
          "y":{"field":"v","type":"quantitative","scale":{"type":"log","base":6,"domain":[1,216],"nice":false},
            "axis":{"title":"NANOS1 expression","titleFontWeight":"bold","titleFontSize":12,"values":[1,6,36,216],"format":".0f","tickSize":4,"offset":-15}},
          "y2":{"datum":1}}},
       {"mark":{"type":"rule","color":"#1a1a1a"},"encoding":{"x":{"field":"c","type":"nominal"},"y":{"field":"v","type":"quantitative"},"y2":{"field":"hi"}}},
       {"mark":{"type":"tick","orient":"horizontal","size":4,"thickness":1,"color":"#1a1a1a"},"encoding":{"x":{"field":"c","type":"nominal"},"y":{"field":"hi","type":"quantitative"}}}
      ]},
     {"data":{"values":[
       {"c0":"FW20","c1":"FW20","cm":"FW20","lab":"Retina","nl":1},
       {"c0":"SJ30","c1":"SJR628","cm":"SJ40","lab":"Primary\nRetinoblastoma","nl":2},
       {"c0":"SJ39.3","c1":"SJ42.3","cm":"SJ41.1","lab":"Xenografts\nRetinoblastoma","nl":2}
      ]},
      "layer":[
       {"mark":{"type":"rule","color":"#333","strokeWidth":1},
        "encoding":{"x":{"field":"c0","type":"nominal","bandPosition":0.25},"x2":{"field":"c1","bandPosition":1},"y":{"datum":0.072}}},
       {"transform":[{"filter":"datum.nl === 2"}],
        "mark":{"type":"text","fontWeight":"bold","fontSize":12,"lineBreak":"\n","lineHeight":15,"baseline":"middle","dy":13,"color":"#111"},
        "encoding":{"x":{"field":"cm","type":"nominal"},"y":{"datum":0.072},"text":{"field":"lab"}}},
       {"transform":[{"filter":"datum.nl === 1"}],
        "mark":{"type":"text","fontWeight":"bold","fontSize":12,"baseline":"middle","dy":19,"color":"#111"},
        "encoding":{"x":{"field":"cm","type":"nominal"},"y":{"datum":0.072},"text":{"field":"lab"}}}
      ]},
     {"data":{"values":[{"lab":"F"}]},"mark":{"type":"text","fontSize":13,"fontWeight":"bold","dx":-83,"dy":-3,"color":"#111"},
      "encoding":{"x":{"datum":"FW20"},"y":{"datum":216},"text":{"field":"lab"}}}
    ]
   }
  ],"spacing":7}
 ],"spacing":-46}
],
"spacing":-13
}
